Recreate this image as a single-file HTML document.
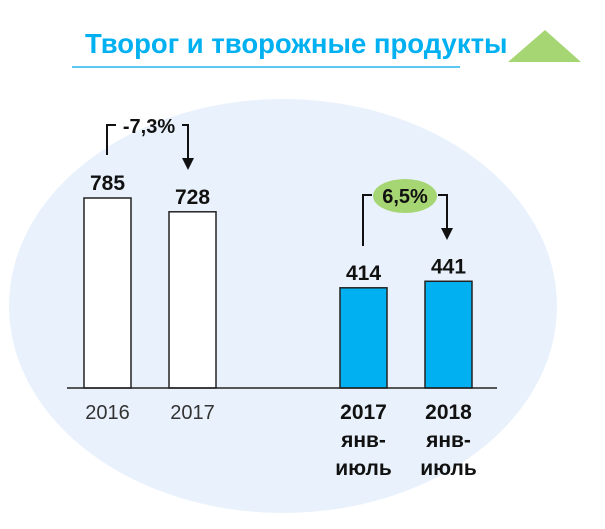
<!DOCTYPE html>
<html><head><meta charset="utf-8"><style>
body{margin:0;background:#fff;}
svg{display:block;font-family:"Liberation Sans","Noto Sans CJK SC",sans-serif;}
</style></head><body>
<svg width="605" height="529" viewBox="0 0 605 529">
<ellipse cx="283" cy="306" rx="274" ry="207" fill="#e9f2fc"/>
<text x="85" y="53" font-size="27.5" font-weight="bold" fill="#00b0f0">Творог и творожные продукты</text>
<rect x="72" y="66" width="388" height="2" fill="#5bc8f2"/>
<polygon points="508,62 545,30 581,62" fill="#a6d673"/>
<g id="bars"></g>
<line x1="67" y1="388" x2="497" y2="388" stroke="#222" stroke-width="1.5"/>
<g>
<polyline points="107,155 107,125 116,125" fill="none" stroke="#111" stroke-width="2"/>
<text x="149" y="133" font-size="20" font-weight="bold" text-anchor="middle" fill="#111">-7,3%</text>
<polyline points="182,125 188,125 188,160" fill="none" stroke="#111" stroke-width="2"/>
<polygon points="182,158 194,158 188,170" fill="#111"/>
</g>
<g>
<polyline points="363,246 363,195 372,195" fill="none" stroke="#111" stroke-width="2"/>
<ellipse cx="405" cy="196" rx="32" ry="17" fill="#a6d673"/>
<text x="405" y="203" font-size="20" font-weight="bold" text-anchor="middle" fill="#111">6,5%</text>
<polyline points="438,195 447,195 447,230" fill="none" stroke="#111" stroke-width="2"/>
<polygon points="441,228 453,228 447,240" fill="#111"/>
</g>
</svg>
<script>
const categories=["2016","2017","2017 янв-июль","2018 янв-июль"];
const values=[785,728,414,441];
const valueLabels=["785","728","414","441"];
const barLefts=[84,169,340,425];
const base=388, scale=190/785;
function y(v){return base-v*scale;}
const g=document.getElementById('bars');
const ns="http://www.w3.org/2000/svg";
categories.forEach((c,i)=>{
  const blue=i>=2;
  const r=document.createElementNS(ns,'rect');
  r.setAttribute('x',barLefts[i]);r.setAttribute('y',y(values[i]));
  r.setAttribute('width',47);r.setAttribute('height',values[i]*scale);
  r.setAttribute('fill',blue?'#00b0f0':'#fff');r.setAttribute('stroke','#222');r.setAttribute('stroke-width','1.5');
  
  
  g.appendChild(r);
  const cx=barLefts[i]+23.5;
  const t=document.createElementNS(ns,'text');
  t.setAttribute('x',cx);t.setAttribute('y',y(values[i])-8);
  t.setAttribute('text-anchor','middle');t.setAttribute('font-size','21');t.setAttribute('font-weight','bold');t.setAttribute('fill','#111');
  t.textContent=valueLabels[i];
  
  
  g.appendChild(t);
  const parts=blue?[c.split(' ')[0],'янв-','июль']:[c];
  parts.forEach((p,j)=>{
    const l=document.createElementNS(ns,'text');
    l.setAttribute('x',cx);l.setAttribute('y',419+j*28);
    l.setAttribute('text-anchor','middle');
    l.setAttribute('font-size',blue?'21':'20');
    if(blue)l.setAttribute('font-weight','bold');
    l.setAttribute('fill',blue?'#111':'#333');
    l.textContent=p;
    
    
    g.appendChild(l);
  });
});
</script>
</body></html>
